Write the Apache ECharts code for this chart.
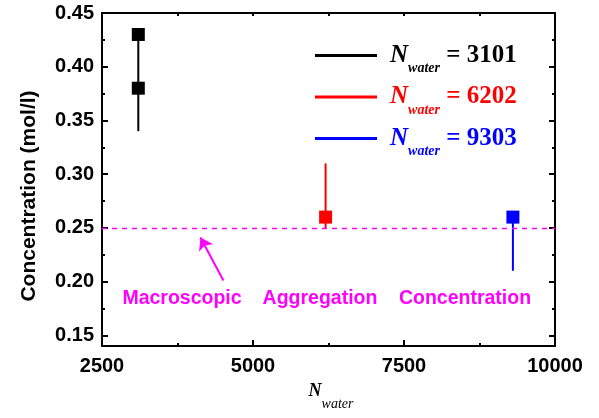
<!DOCTYPE html>
<html>
<head>
<meta charset="utf-8">
<script src="https://cdn.jsdelivr.net/npm/echarts@6/dist/echarts.min.js"></script>
<style>
  html, body { margin: 0; background: #fff; }
  #chart { width: 599px; height: 418px; }
</style>
</head>
<body>
<div id="chart"></div>
<script>
// data
const nWater = [3101, 6202, 9303];
const groupColors = ['#000000', '#ff0000', '#0000ff'];
const squareConc = [[0.43, 0.38], [0.26], [0.26]];
const barLow = [0.34, 0.249, 0.21];
const barHigh = [0.43, 0.31, 0.26];
const macroConc = 0.248;
const arrowTail = [4510, 0.201];
const arrowHead = [4130, 0.241];
const yMajor = [0.15, 0.20, 0.25, 0.30, 0.35, 0.40, 0.45];
const yMinor = [0.175, 0.225, 0.275, 0.325, 0.375, 0.425];
const notes = ['Macroscopic', 'Aggregation', 'Concentration'];

const chart = echarts.init(document.getElementById('chart'));
const sans = 'Liberation Sans';
const serif = 'Liberation Serif';
const magenta = '#ff00ff';
const richKeys = ['k', 'r', 'b'];

// rich styles for the legend, one set per colour
const legendRich = {};
richKeys.forEach((k, i) => {
  legendRich['n' + k] = { fontFamily: serif, fontStyle: 'italic', fontWeight: 'bold', fontSize: 25, color: groupColors[i], padding: [0, 0, 0, 8] };
  legendRich['s' + k] = { fontFamily: serif, fontStyle: 'italic', fontWeight: 'bold', fontSize: 14, color: groupColors[i], padding: [26, 0, 0, 0] };
  legendRich['e' + k] = { fontFamily: serif, fontWeight: 'bold', fontSize: 25, color: groupColors[i] };
});

const series = [];
nWater.forEach((n, i) => {
  const name = 'g' + i;
  series.push({
    name: name, type: 'line', color: groupColors[i],
    data: [[n, barLow[i]], [n, barHigh[i]]],
    symbol: 'none', lineStyle: { width: 2, color: groupColors[i] }, z: 3
  });
  series.push({
    name: name, type: 'scatter', color: groupColors[i],
    data: squareConc[i].map(v => [n, v]),
    symbol: 'rect', symbolSize: 13, itemStyle: { color: groupColors[i], opacity: 1 }, z: 4
  });
});
// dashed macroscopic level
series.push({
  type: 'line', data: [], silent: true,
  markLine: {
    silent: true, symbol: 'none', label: { show: false },
    lineStyle: { color: magenta, type: [5, 5], width: 1.3 },
    data: [{ yAxis: macroConc }]
  }
});
// arrow
series.push({
  type: 'line', data: [], silent: true,
  markLine: {
    silent: true, symbol: ['none', 'arrow'], symbolSize: 12, label: { show: false },
    lineStyle: { color: magenta, type: 'solid', width: 2 },
    data: [[{ coord: arrowTail }, { coord: arrowHead }]]
  }
});

const tickLabel = { color: '#000', fontFamily: sans, fontWeight: 'bold', fontSize: 20 };
const blackLine = { show: true, lineStyle: { color: '#000', width: 2 } };

function yAxisCfg(pos, values, len, labels) {
  return {
    type: 'value', position: pos, min: 0.14, max: 0.45,
    axisLine: labels !== null ? blackLine : { show: false },
    axisTick: { show: true, inside: true, length: len, customValues: values, lineStyle: { color: '#000', width: 2 } },
    axisLabel: labels ? Object.assign({ show: true, customValues: values, margin: 8, formatter: v => v.toFixed(2) }, tickLabel) : { show: false },
    splitLine: { show: false }
  };
}

chart.setOption({
  animation: false,
  backgroundColor: '#fff',
  grid: { left: 102, right: 44, top: 13, bottom: 72 },
  xAxis: [
    {
      type: 'value', position: 'bottom', min: 2500, max: 10000, interval: 2500,
      axisLine: blackLine,
      axisTick: { inside: true, length: 6, lineStyle: { color: '#000', width: 2 } },
      minorTick: { show: true, splitNumber: 2, length: 3, lineStyle: { color: '#000', width: 2 } },
      axisLabel: Object.assign({ margin: 10, formatter: v => String(v) }, tickLabel),
      splitLine: { show: false }, minorSplitLine: { show: false }
    },
    {
      type: 'value', position: 'top', min: 2500, max: 10000, interval: 2500,
      axisLine: blackLine,
      axisTick: { inside: true, length: 3, lineStyle: { color: '#000', width: 2 } },
      minorTick: { show: true, splitNumber: 2, length: 3, lineStyle: { color: '#000', width: 2 } },
      axisLabel: { show: false },
      splitLine: { show: false }, minorSplitLine: { show: false }
    }
  ],
  yAxis: [
    yAxisCfg('left', yMajor, 6, true),
    yAxisCfg('left', yMinor, 3, null),
    yAxisCfg('right', yMajor, 6, false),
    yAxisCfg('right', yMinor, 3, null)
  ],
  legend: {
    orient: 'vertical', left: 315, top: 43, padding: 0,
    itemWidth: 62, itemHeight: 3, itemGap: 9,
    selectedMode: false,
    data: nWater.map((n, i) => ({ name: 'g' + i, icon: 'rect' })),
    formatter: name => {
      const i = Number(name.slice(1));
      const k = richKeys[i];
      return '{n' + k + '|N}{s' + k + '|water}{e' + k + '| = ' + nWater[i] + '}';
    },
    textStyle: { rich: legendRich }
  },
  graphic: [
    {
      type: 'text', x: 29, y: 196, rotation: Math.PI / 2,
      style: { text: 'Concentration (mol/l)', font: 'bold 21px "Liberation Sans"', fill: '#000', align: 'center', verticalAlign: 'middle' }
    },
    {
      type: 'text', x: 331, y: 391,
      style: {
        text: '{n|N}{s|water}', align: 'center', verticalAlign: 'middle',
        rich: {
          n: { fontFamily: serif, fontStyle: 'italic', fontWeight: 'bold', fontSize: 18, fill: '#000' },
          s: { fontFamily: serif, fontStyle: 'italic', fontSize: 14, fill: '#000', padding: [26, 0, 0, 0] }
        }
      }
    }
  ].concat(notes.map((t, i) => ({
    type: 'text', x: [182, 320, 465][i], y: 299,
    style: { text: t, font: 'bold 19.5px "Liberation Sans"', fill: magenta, align: 'center', verticalAlign: 'middle' }
  }))),
  series: series
});
</script>
</body>
</html>
